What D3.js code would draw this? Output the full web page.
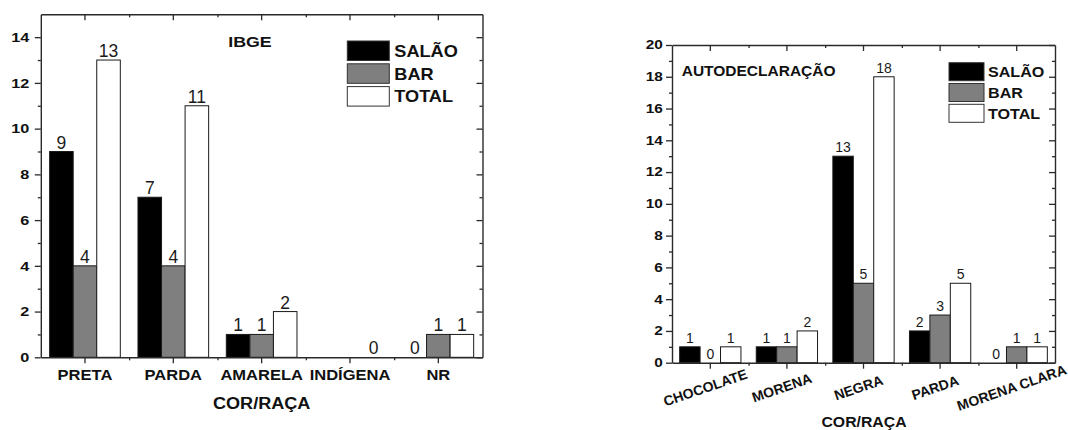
<!DOCTYPE html>
<html><head><meta charset="utf-8">
<script src="https://cdn.jsdelivr.net/npm/d3@7"></script>
<style>
body{margin:0;background:#fff;}
svg{display:block;font-family:"Liberation Sans",Arial,sans-serif;}
</style></head><body>
<svg id="c" width="1068" height="430"></svg>
<script>
const series = ["SALÃO", "BAR", "TOTAL"];
const seriesColors = ["#000000", "#7f7f7f", "#ffffff"];

const ibgeCategories = ["PRETA", "PARDA", "AMARELA", "INDÍGENA", "NR"];
const ibgeSalao = [9, 7, 1, null, 0];
const ibgeBar = [4, 4, 1, null, 1];
const ibgeTotal = [13, 11, 2, 0, 1];
const ibgeYTicks = [0, 2, 4, 6, 8, 10, 12, 14];
const ibgeYMinor = [1, 3, 5, 7, 9, 11, 13, 15];

const autoCategories = ["CHOCOLATE", "MORENA", "NEGRA", "PARDA", "MORENA CLARA"];
const autoSalao = [1, 1, 13, 2, 0];
const autoBar = [0, 1, 5, 3, 1];
const autoTotal = [1, 2, 18, 5, 1];
const autoYTicks = [0, 2, 4, 6, 8, 10, 12, 14, 16, 18, 20];
const autoYMinor = [1, 3, 5, 7, 9, 11, 13, 15, 17, 19];

const svg = d3.select("#c");

function stretch(sel, s) {
  sel.each(function () {
    const t = d3.select(this);
    const x = +t.attr("x") || 0;
    t.attr("transform", `translate(${x},0) scale(${s},1) translate(${-x},0)`);
  });
}

function drawChart(cfg) {
  const g = svg.append("g");
  const x = d3.scaleBand().domain(cfg.categories).range([cfg.left, cfg.right]).padding(0);
  const xb = d3.scaleLinear().domain([0, cfg.categories.length]).range([cfg.left, cfg.right]);
  const y = d3.scaleLinear().domain([0, cfg.ymax]).range([cfg.bottom, cfg.top]);
  const bw = x.bandwidth();
  const x1 = d3.scaleBand().domain(series).range([0.1 * bw, 0.9 * bw]).padding(0);

  const values = [cfg.salao, cfg.bar, cfg.total];

  // bars
  series.forEach((s, si) => {
    const data = cfg.categories.map((c, i) => ({ c, v: values[si][i] }));
    g.selectAll(null).data(data.filter(d => d.v !== null && d.v > 0)).enter().append("rect")
      .attr("x", d => x(d.c) + x1(s))
      .attr("width", x1.bandwidth())
      .attr("y", d => y(d.v))
      .attr("height", d => y(0) - y(d.v))
      .attr("fill", seriesColors[si])
      .attr("stroke", "#1a1a1a")
      .attr("stroke-width", 1);
    g.selectAll(null).data(data.filter(d => d.v !== null)).enter().append("text")
      .attr("x", d => x(d.c) + x1(s) + x1.bandwidth() / 2)
      .attr("y", d => y(d.v) - cfg.valGap)
      .attr("text-anchor", "middle")
      .attr("font-size", cfg.valSize)
      .attr("fill", "#1a1a1a")
      .text(d => d.v);
  });

  const axisStyle = sel => {
    sel.selectAll("path.domain").attr("stroke", "#2a2a2a").attr("stroke-width", 1.4);
    sel.selectAll(".tick line").attr("stroke", "#2a2a2a").attr("stroke-width", 1.3);
  };

  // left axis major
  const ya = g.append("g").attr("transform", `translate(${cfg.left},0)`)
    .call(d3.axisLeft(y).tickValues(cfg.yTicks).tickSize(6).tickSizeOuter(0).tickPadding(cfg.yPad).tickFormat(d3.format("d")));
  axisStyle(ya);
  ya.selectAll("text").attr("font-size", cfg.yTickSize).attr("font-weight", "bold").attr("fill", "#111")
    .attr("font-family", '"Liberation Sans",Arial,sans-serif');
  stretch(ya.selectAll("text"), cfg.yStretch);
  const yam = g.append("g").attr("transform", `translate(${cfg.left},0)`)
    .call(d3.axisLeft(y).tickValues(cfg.yMinor.filter(v => v < cfg.ymax)).tickSize(3).tickSizeOuter(0).tickFormat(""));
  axisStyle(yam);
  yam.select("path.domain").remove();

  // right axis (inward)
  const yr = g.append("g").attr("transform", `translate(${cfg.right},0)`)
    .call(d3.axisLeft(y).tickValues(cfg.yTicks).tickSize(6).tickSizeOuter(0).tickFormat(""));
  axisStyle(yr);
  const yrm = g.append("g").attr("transform", `translate(${cfg.right},0)`)
    .call(d3.axisLeft(y).tickValues(cfg.yMinor.filter(v => v < cfg.ymax)).tickSize(3).tickSizeOuter(0).tickFormat(""));
  axisStyle(yrm);
  yrm.select("path.domain").remove();

  // bottom axis
  const xa = g.append("g").attr("transform", `translate(0,${cfg.bottom})`)
    .call(d3.axisBottom(x).tickSize(6).tickSizeOuter(0).tickPadding(cfg.xPad));
  axisStyle(xa);
  xa.selectAll("text").attr("font-size", cfg.xTickSize).attr("font-weight", "bold").attr("fill", "#111")
    .attr("font-family", '"Liberation Sans",Arial,sans-serif');
  if (cfg.rotate) {
    xa.selectAll("text").attr("y", 0).attr("dy", "0.35em").attr("text-anchor", "middle")
      .attr("transform", `translate(${cfg.rotDx},${cfg.rotDy}) rotate(${cfg.rotate})`);
  } else {
    stretch(xa.selectAll("text"), cfg.xStretch);
  }
  const xam = g.append("g").attr("transform", `translate(0,${cfg.bottom})`)
    .call(d3.axisBottom(xb).tickValues(d3.range(1, cfg.categories.length)).tickSize(3).tickSizeOuter(0).tickFormat(""));
  axisStyle(xam);
  xam.select("path.domain").remove();

  // top axis (inward)
  const xt = g.append("g").attr("transform", `translate(0,${cfg.top})`)
    .call(d3.axisBottom(x).tickSize(6).tickSizeOuter(0).tickFormat(""));
  axisStyle(xt);
  const xtm = g.append("g").attr("transform", `translate(0,${cfg.top})`)
    .call(d3.axisBottom(xb).tickValues(d3.range(1, cfg.categories.length)).tickSize(3).tickSizeOuter(0).tickFormat(""));
  axisStyle(xtm);
  xtm.select("path.domain").remove();

  // x title
  const xtitle = g.append("text").attr("x", cfg.xTitleX).attr("y", cfg.xTitleY)
    .attr("text-anchor", "middle").attr("font-size", cfg.xTitleSize).attr("font-weight", "bold").attr("fill", "#111")
    .text("COR/RAÇA");
  stretch(xtitle, cfg.xTitleStretch);

  // chart title
  const title = g.append("text").attr("x", cfg.titleX).attr("y", cfg.titleY)
    .attr("text-anchor", cfg.titleAnchor).attr("font-size", cfg.titleSize).attr("font-weight", "bold").attr("fill", "#111")
    .text(cfg.title);
  stretch(title, cfg.titleStretch);

  // legend
  const lg = g.append("g");
  series.forEach((s, i) => {
    const yy = cfg.legY + i * cfg.legStep;
    lg.append("rect").attr("x", cfg.legX).attr("y", yy).attr("width", cfg.legW).attr("height", cfg.legH)
      .attr("fill", seriesColors[i]).attr("stroke", "#333").attr("stroke-width", 1);
    const t = lg.append("text").attr("x", cfg.legX + cfg.legW + cfg.legTextGap).attr("y", yy + cfg.legH / 2 + cfg.legBase)
      .attr("font-size", cfg.legSize).attr("font-weight", "bold").attr("fill", "#111").text(s);
    stretch(t, cfg.legStretch);
  });
}

drawChart({
  categories: ibgeCategories, salao: ibgeSalao, bar: ibgeBar, total: ibgeTotal,
  yTicks: ibgeYTicks, yMinor: ibgeYMinor, ymax: 15,
  left: 40.8, right: 482.5, top: 14.3, bottom: 357.3,
  valSize: 17.5, valGap: 3,
  yTickSize: 13, yStretch: 1.25, yPad: 5.5,
  xTickSize: 14, xStretch: 1.18, xPad: 7,
  xTitleX: 261.7, xTitleY: 409, xTitleSize: 16, xTitleStretch: 1.13,
  title: "IBGE", titleX: 250, titleY: 47.5, titleAnchor: "middle", titleSize: 15.5, titleStretch: 1.15,
  legX: 347.3, legY: 41, legStep: 22.8, legW: 42, legH: 19.5, legTextGap: 5, legBase: 6,
  legSize: 16.5, legStretch: 1.1
});

drawChart({
  categories: autoCategories, salao: autoSalao, bar: autoBar, total: autoTotal,
  yTicks: autoYTicks, yMinor: autoYMinor, ymax: 20,
  left: 672, right: 1055, top: 45, bottom: 362.7,
  valSize: 14, valGap: 4,
  yTickSize: 12, yStretch: 1.28, yPad: 3.3,
  xTickSize: 14, xPad: 7, rotate: -19, rotDx: -5, rotDy: 25,
  xTitleX: 864, xTitleY: 427, xTitleSize: 15.5, xTitleStretch: 1.02,
  title: "AUTODECLARAÇÃO", titleX: 681.7, titleY: 76, titleAnchor: "start", titleSize: 15.5, titleStretch: 1.0,
  legX: 949, legY: 62.7, legStep: 20.8, legW: 35, legH: 18, legTextGap: 4, legBase: 5.6,
  legSize: 15.5, legStretch: 1.04
});
</script>
</body></html>
